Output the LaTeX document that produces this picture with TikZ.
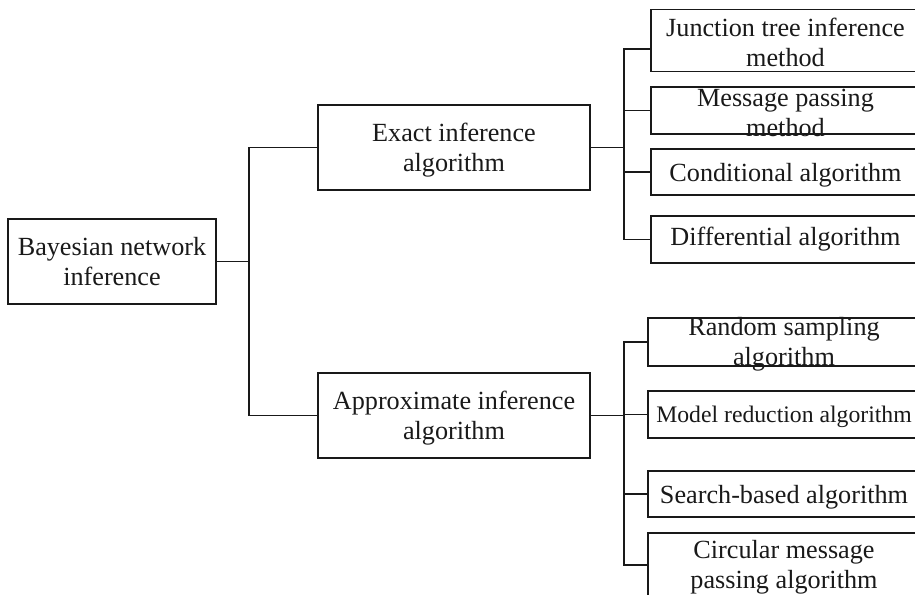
\documentclass[tikz,border=0pt]{standalone}
\usepackage{fontspec}
\setmainfont{Liberation Serif}
\begin{document}
\begin{tikzpicture}[x=1pt,y=-1pt,
  box/.style={draw=black!90, line width=1.1pt, inner sep=0pt, outer sep=0pt},
  txt/.style={inner sep=0pt, align=center, text=black!90,
              font=\fontsize{26.2}{30}\selectfont},
  smalltxt/.style={txt, font=\fontsize{23.7}{28}\selectfont},
  conn/.style={draw=black!90, line width=1.3pt}]
\useasboundingbox (0,0) rectangle (915,594);

% root and second level
\node[box, minimum width=208pt, minimum height=85pt] (root) at (112,261.5) {};
\node[txt] (rootl) at (root) {Bayesian network\\inference};
\node[box, minimum width=272pt, minimum height=85pt] (exact) at (454,147.5) {};
\node[txt] (exactl) at ([yshift=-2.5pt]exact.center) {Exact inference\\algorithm};
\node[box, minimum width=272pt, minimum height=85pt] (approx) at (454,415.5) {};
\node[txt] (approxl) at ([yshift=-2.5pt]approx.center) {Approximate inference\\algorithm};

% exact methods
\node[box, minimum width=269pt, minimum height=62.5pt] (t1) at (785.5,40.5) {};
\node[txt] (t1l) at ([yshift=-1.5pt]t1.center) {Junction tree inference\\method};
\node[box, minimum width=269pt, minimum height=47pt] (t2) at (785.5,110.5) {};
\node[txt] (t2l) at ([yshift=-2.5pt]t2.center) {Message passing\\method};
\node[box, minimum width=269pt, minimum height=46pt] (t3) at (785.5,172) {};
\node[txt] (t3l) at ([yshift=-3.5pt]t3.center) {Conditional algorithm};
\node[box, minimum width=269pt, minimum height=47pt] (t4) at (785.5,239.5) {};
\node[txt] (t4l) at (t4) {Differential algorithm};

% approximate methods
\node[box, minimum width=272pt, minimum height=48pt] (b1) at (784,342) {};
\node[txt] (b1l) at ([yshift=-2.5pt]b1.center) {Random sampling\\algorithm};
\node[box, minimum width=272pt, minimum height=47pt] (b2) at (784,414.5) {};
\node[smalltxt] (b2l) at ([yshift=-2.5pt]b2.center) {Model reduction algorithm};
\node[box, minimum width=272pt, minimum height=46pt] (b3) at (784,494) {};
\node[txt] (b3l) at ([yshift=-3pt]b3.center) {Search-based algorithm};
\node[box, minimum width=272pt, minimum height=64pt] (b4) at (784,565) {};
\node[txt] (b4l) at ([yshift=-2pt]b4.center) {Circular message\\passing algorithm};

% root bracket
\coordinate (rj) at (249,261.5);
\draw[conn] (root.east) -- (rj);
\draw[conn] (exact.west) -- (exact.west -| rj) -- (approx.west -| rj) -- (approx.west);

% exact bracket
\coordinate (ebr) at (624,147.5);
\draw[conn] (exact.east) -- (ebr);
\draw[conn] ([yshift=-8.5pt]t1.west) -- ([yshift=-8.5pt]t1.west -| ebr) -- (t4.west -| ebr) -- (t4.west);
\draw[conn] (t2.west) -- (t2.west -| ebr);
\draw[conn] (t3.west) -- (t3.west -| ebr);

% approximate bracket
\coordinate (abr) at (624,415.5);
\draw[conn] (approx.east) -- (abr);
\draw[conn] (b1.west) -- (b1.west -| abr) -- (b4.west -| abr) -- (b4.west);
\draw[conn] (b2.west) -- (b2.west -| abr);
\draw[conn] (b3.west) -- (b3.west -| abr);
\end{tikzpicture}
\end{document}
